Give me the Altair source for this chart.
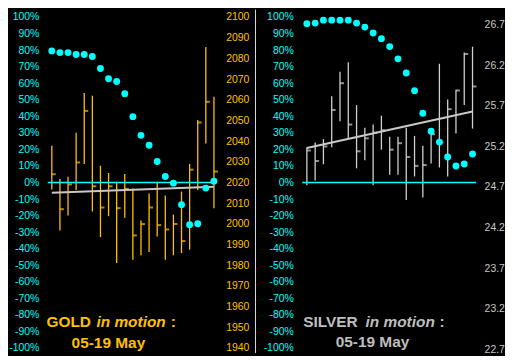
import altair as alt
import pandas as pd

# ---------------- data ----------------
idx = list(range(1, 22))

gold_high = [2037.8, 2021.7, 2022.8, 2044.0, 2063.3, 2061.9, 2028.1, 2024.6, 2020.4, 2024.1, 2017.1,
             2001.6, 2014.7, 2020.4, 2013.7, 2004.5, 2015.6, 2029.0, 2050.2, 2085.5, 2061.4]
gold_low = [2016.6, 1996.8, 2004.1, 2016.4, 2029.0, 2006.0, 1993.6, 2003.7, 1981.1, 2002.9, 1982.7,
            1984.8, 1986.4, 1993.9, 1982.7, 1984.8, 1985.9, 1987.5, 2016.4, 2038.9, 2007.6]
gold_close = [2024.0, 2007.1, 2019.1, 2029.7, 2054.6, 2018.2, 2007.9, 2018.2, 2007.6, 2016.9, 1994.4,
              1999.9, 2007.9, 1999.4, 1997.3, 1999.9, 1991.7, 2026.2, 2049.0, 2059.0, 2025.3]
gold_pct = [79.5, 78.5, 78.5, 77.3, 77.3, 76.1, 68.9, 62.7, 61.0, 53.6, 39.8,
            28.5, 22.5, 12.7, 3.6, -0.4, -13.4, -25.5, -24.9, -3.4, 0.8]
gold_reg = [2015.1, 2018.0]

silver_high = [25.19, 25.25, 25.29, 25.82, 26.12, 26.24, 25.71, 25.43, 25.47, 25.58, 25.32,
               25.32, 25.43, 25.33, 25.21, 25.37, 26.22, 25.78, 25.90, 26.36, 26.43]
silver_low = [24.72, 24.78, 24.98, 25.19, 25.51, 25.30, 24.93, 25.03, 24.72, 25.16, 24.85,
              24.85, 24.54, 24.83, 24.57, 24.99, 24.94, 24.83, 25.36, 25.71, 25.42]
silver_close = [25.15, 25.02, 25.20, 25.65, 25.98, 25.47, 25.14, 25.30, 25.37, 25.40, 25.16,
                25.24, 25.07, 24.96, 24.97, 25.35, 25.25, 25.66, 25.89, 26.34, 25.94]
silver_pct = [95.9, 96.3, 98.1, 98.1, 98.1, 98.1, 96.3, 93.9, 90.3, 86.9, 82.1,
              74.7, 66.2, 55.4, 41.8, 31.0, 24.4, 15.4, 10.0, 11.2, 17.2]
silver_reg = [25.18, 25.63]

pct_ticks = list(range(-100, 101, 10))
gold_ticks = list(range(1940, 2101, 10))
silver_ticks = [22.7, 23.2, 23.7, 24.2, 24.7, 25.2, 25.7, 26.2, 26.7]

gold_title = ["GOLD", "in motion", ":"]
silver_title = ["SILVER", "in motion", ":"]
date_text = "05-19 May"

# ---------------- style ----------------
H = 333
GOLD = "#FFC000"
CYAN = "#00FFFF"
SILV = "#D0D0D0"
REGC = "#C8C8C8"
FONT = "Liberation Sans"


def text_layer(s, xpx, ypx, color, italic=False):
    return alt.Chart(pd.DataFrame({"t": [s]})).mark_text(
        align="left", baseline="alphabetic", font=FONT, fontSize=15.5,
        fontWeight="bold", fontStyle="italic" if italic else "normal", color=color
    ).encode(text="t:N", x=alt.value(xpx), y=alt.value(ypx))


def panel(high, low, close, pct, reg, xdom, width, price_scale, price_ticks, price_fmt,
          bar_color, price_label_color, price_pad, title_parts, title_color,
          title_x, line1_y, date_x, date_y, divider_x=None):
    df = pd.DataFrame({"i": idx, "high": high, "low": low, "close": close, "pct": pct})
    rdf = pd.DataFrame({"i": [idx[0], idx[-1]], "p": reg})
    x = alt.X("i:Q", scale=alt.Scale(domain=xdom, nice=False, zero=False), axis=None)
    pct_scale = alt.Scale(domain=[-100, 100], nice=False, zero=False)

    def price_axis():
        return alt.Axis(orient="right", values=price_ticks, format=price_fmt,
                        labelColor=price_label_color, labelFont=FONT, labelFontSize=10.5,
                        labelPadding=price_pad, ticks=False, domain=False, grid=False,
                        title="", labelOverlap=False, labelFlush=False)

    def pct_axis():
        return alt.Axis(orient="left", values=pct_ticks, labelExpr="datum.value + '%'",
                        labelColor=CYAN, labelFont=FONT, labelFontSize=10.5, labelPadding=9,
                        ticks=False, domain=False, grid=False, title="",
                        labelOverlap=False, labelFlush=False)

    base = alt.Chart(df)
    bars = base.mark_rule(color=bar_color, strokeWidth=1.3).encode(
        x=x, y=alt.Y("high:Q", scale=price_scale, axis=price_axis()), y2="low:Q")
    ticks = base.mark_tick(color=bar_color, orient="horizontal", size=4, thickness=2,
                           xOffset=2).encode(
        x=x, y=alt.Y("close:Q", scale=price_scale, axis=price_axis()))
    regl = alt.Chart(rdf).mark_line(color=REGC, strokeWidth=2).encode(
        x=x, y=alt.Y("p:Q", scale=price_scale, axis=price_axis()))
    price_layer = alt.layer(bars, ticks, regl)

    zero = alt.Chart(pd.DataFrame({"z": [0]})).mark_rule(color=CYAN, strokeWidth=1.5).encode(
        y=alt.Y("z:Q", scale=pct_scale, axis=pct_axis()), x=alt.value(0), x2=alt.value(width))
    dots = base.mark_circle(color=CYAN, size=48, opacity=1).encode(
        x=x, y=alt.Y("pct:Q", scale=pct_scale, axis=pct_axis()))
    pct_layer = alt.layer(zero, dots)

    layers = [price_layer, pct_layer,
              text_layer(title_parts[0], title_x[0], line1_y, title_color),
              text_layer(title_parts[1], title_x[1], line1_y, title_color, italic=True),
              text_layer(title_parts[2], title_x[2], line1_y, title_color),
              text_layer(date_text, date_x, date_y, title_color)]
    if divider_x is not None:
        div = alt.Chart(pd.DataFrame({"d": [0]})).mark_rule(color="#D8D8D8", strokeWidth=1).encode(
            x=alt.value(divider_x), y=alt.value(-7.4), y2=alt.value(338))
        layers.append(div)
    return alt.layer(*layers).resolve_scale(y="independent").properties(width=width, height=H)


gold_panel = panel(
    gold_high, gold_low, gold_close, gold_pct, gold_reg,
    xdom=[0.5, 21.1], width=168,
    price_scale=alt.Scale(domain=[1940, 2100], nice=False, zero=False),
    price_ticks=gold_ticks, price_fmt="d", bar_color=GOLD, price_label_color=GOLD,
    price_pad=11, title_parts=gold_title, title_color=GOLD,
    title_x=[-1.3, 49, 123.7], line1_y=311.8, date_x=24, date_y=332.8, divider_x=209)

silver_panel = panel(
    silver_high, silver_low, silver_close, silver_pct, silver_reg,
    xdom=[0.44, 21.44], width=175,
    price_scale=alt.Scale(domain=[22.7, 26.7], range=[334.1, 7.9], nice=False, zero=False),
    price_ticks=silver_ticks, price_fmt=".1f", bar_color=SILV, price_label_color="#C8C8C8",
    price_pad=8, title_parts=silver_title, title_color="#BEBEBE",
    title_x=[1, 63.7, 138], line1_y=312.2, date_x=33.7, date_y=332.2)

chart = alt.hconcat(gold_panel, silver_panel, spacing=88, bounds="flush").properties(
    background="black", padding=0
).configure_view(strokeWidth=0)

chart.save("out.html", embed_options={"renderer": "svg", "actions": False})
